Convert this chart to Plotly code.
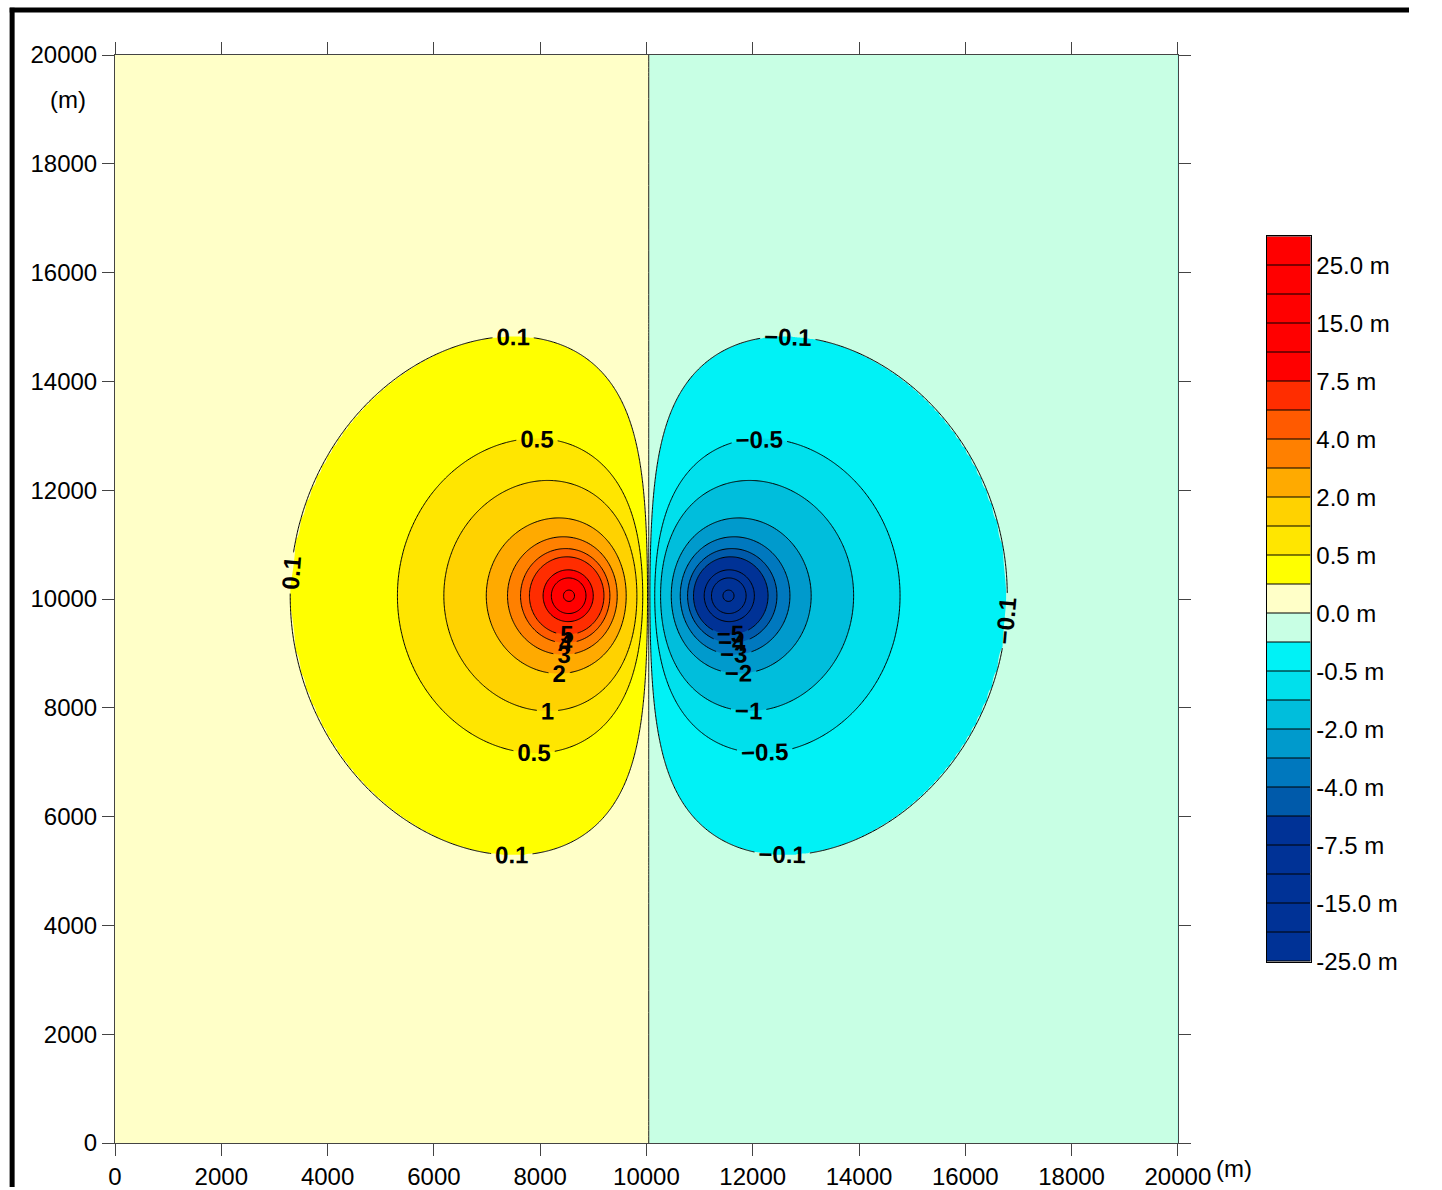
import numpy as np
import plotly.graph_objects as go

# ---------------- data ----------------
x_tick_vals = [0, 2000, 4000, 6000, 8000, 10000, 12000, 14000, 16000, 18000, 20000]
y_tick_vals = [0, 2000, 4000, 6000, 8000, 10000, 12000, 14000, 16000, 18000, 20000]
x_tick_text = [str(v) for v in x_tick_vals]
y_tick_text = [str(v) for v in y_tick_vals]

# two-lobe displacement field (positive lobe left, negative lobe right)
pos_source_x = 8545.0
neg_source_x = 11541.0
source_y = 10060.0
amplitude = 4700.0
core_radius = 280.0
decay_length = 3280.0
decay_power = 1.6

# colour bands (bottom -> top) and their boundaries
band_bounds = [-25, -20, -15, -10, -7.5, -5, -4, -3, -2, -1, -0.5, -0.1, 0,
               0.1, 0.5, 1, 2, 3, 4, 5, 7.5, 10, 15, 20, 25, 30]
band_colors = ["#003296", "#003296", "#003296", "#003296", "#003296",
               "#005AAA", "#0078BE", "#009ACC", "#00BEDC", "#00E0EC",
               "#00F2F6", "#C8FFE4", "#FFFFC8", "#FFFF00", "#FFE600",
               "#FFD200", "#FFAA00", "#FF8000", "#FF5A00", "#FF2D00",
               "#FF0000", "#FF0000", "#FF0000", "#FF0000", "#FF0000"]
cbar_label_values = [-25, -15, -7.5, -4, -2, -0.5, 0, 0.5, 2, 4, 7.5, 15, 25]
cbar_label_text = ["-25.0 m", "-15.0 m", "-7.5 m", "-4.0 m", "-2.0 m", "-0.5 m",
                   "0.0 m", "0.5 m", "2.0 m", "4.0 m", "7.5 m", "15.0 m", "25.0 m"]
line_levels = [-25, -20, -15, -10, -7.5, -5, -4, -3, -2, -1, -0.5, -0.1, 0,
               0.1, 0.5, 1, 2, 3, 4, 5, 7.5, 10, 15, 20, 25]
# how many labels each of the outer contours carries in the picture
labels_per_level = {0.1: 3, -0.1: 3, 0.5: 2, -0.5: 2}

FONT = "Liberation Sans, Arial, Helvetica, sans-serif"

# ---------------- grid & field ----------------
xg = np.concatenate([np.arange(0, 6000, 100), np.arange(6000, 14000, 20),
                     np.arange(14000, 20001, 100)]).astype(float)
yg = np.concatenate([np.arange(0, 5000, 100), np.arange(5000, 15000, 25),
                     np.arange(15000, 20001, 100)]).astype(float)
X, Y = np.meshgrid(xg, yg)


def lobe(r):
    return np.exp(-(r / decay_length) ** decay_power) / np.sqrt(r ** 2 + core_radius ** 2)


r1 = np.hypot(X - pos_source_x, Y - source_y)
r2 = np.hypot(X - neg_source_x, Y - source_y)
U = amplitude * (lobe(r1) - lobe(r2))

n_bands = len(band_colors)
zero_idx = band_bounds.index(0)
band_index = np.interp(U, band_bounds, np.arange(len(band_bounds)))
band_index = np.where(U > 0, np.maximum(band_index, zero_idx + 1e-3),
                      np.minimum(band_index, zero_idx - 1e-3))
colorscale = [[k / (n_bands - 1), c] for k, c in enumerate(band_colors)]

fig = go.Figure()

# filled bands
fig.add_trace(go.Contour(
    x=xg, y=yg, z=band_index.astype(np.float32),
    contours=dict(start=1, end=n_bands - 1, size=1, coloring="fill", showlines=False),
    colorscale=colorscale, showscale=False, line=dict(width=0),
    hoverinfo="skip",
))

# contour lines with labels, one trace per level
label_font = dict(family=FONT, size=24, color="black", weight="bold")
for lev in line_levels:
    n_levels = 1
    if lev == 0:
        ix = np.where((xg > 9500) & (xg < 10600))[0]
        iy = np.union1d(np.arange(0, len(yg), 4), [len(yg) - 1])
    elif lev in labels_per_level:
        # whole field: plotly spreads several labels round the long outer contours
        ix = np.arange(len(xg))
        iy = np.arange(len(yg))
        n_levels = {3: 50, 2: 40}[labels_per_level[lev]]
    else:
        mask = (np.sign(lev) * U) >= abs(lev)
        if not mask.any():
            continue
        rows = np.where(mask.any(axis=1))[0]
        cols = np.where(mask.any(axis=0))[0]
        cx0, cx1 = xg[cols.min()], xg[cols.max()]
        cy0, cy1 = yg[rows.min()], yg[rows.max()]
        w, h = cx1 - cx0, cy1 - cy0
        m = 300.0
        by0, by1 = cy0 - m - 0.6 * h, cy1 + m
        if lev > 0:
            bx0, bx1 = cx0 - m - 0.3 * w, cx1 + m
        else:
            bx0, bx1 = cx0 - m, cx1 + m + 0.3 * w
        ix = np.where((xg >= bx0) & (xg <= bx1))[0]
        iy = np.where((yg >= by0) & (yg <= by1))[0]
    sub = U[np.ix_(iy, ix)].astype(np.float32)
    fig.add_trace(go.Contour(
        x=xg[ix], y=yg[iy], z=sub,
        contours=dict(start=lev, end=lev + (n_levels - 1) * 1000.0, size=1000.0,
                      coloring="none", showlabels=(lev != 0), labelformat="~g",
                      labelfont=label_font),
        line=dict(color="#222222" if lev == 0 else "black", width=1, smoothing=1),
        showscale=False, hoverinfo="skip",
    ))

# colour bar drawn as a one-column heatmap
fig.add_trace(go.Heatmap(
    x=[0], y=[k + 0.5 for k in range(n_bands)],
    z=[[k] for k in range(n_bands)],
    colorscale=colorscale, zmin=0, zmax=n_bands - 1, showscale=False,
    ygap=1, xaxis="x2", yaxis="y2", hoverinfo="skip",
))

cbar_tickvals = [band_bounds.index(v) for v in cbar_label_values]

W, H = 1442, 1190
ML, MR, MT, MB = 115, 0, 55, 44
PW = W - ML - MR
PH = H - MT - MB


def px_x(p):
    return (p - ML) / PW


def px_y(p):
    return (H - MB - p) / PH


axis_common = dict(
    range=[0, 20000], ticks="outside", ticklen=12, tickwidth=1, tickcolor="#444444",
    showline=True, linecolor="#444444", linewidth=1, mirror="ticks",
    showgrid=False, zeroline=False,
    tickfont=dict(family=FONT, size=24, color="black"),
)

fig.update_layout(
    width=W, height=H, autosize=False,
    margin=dict(l=ML, r=MR, t=MT, b=MB, pad=0),
    paper_bgcolor="white", plot_bgcolor="white",
    showlegend=False,
    xaxis=dict(domain=[0, 1090 / PW], tickvals=x_tick_vals, ticktext=x_tick_text, **axis_common),
    yaxis=dict(domain=[0, 1], tickvals=y_tick_vals, ticktext=y_tick_text, **axis_common),
    xaxis2=dict(domain=[px_x(1296), px_x(1341)], anchor="y2", range=[-0.5, 0.5],
                showticklabels=False, ticks="", showgrid=False, zeroline=False,
                showline=True, mirror=True, linecolor="black", linewidth=1),
    yaxis2=dict(domain=[px_y(964), px_y(237)], anchor="x2", range=[0, n_bands],
                side="right", tickvals=cbar_tickvals, ticktext=cbar_label_text,
                ticks="", showgrid=False, zeroline=False,
                showline=True, mirror=True, linecolor="black", linewidth=1,
                tickfont=dict(family=FONT, size=24, color="black")),
    shapes=[
        dict(type="rect", xref="x2 domain", yref="y2 domain", x0=0, x1=1, y0=0, y1=1,
             fillcolor="black", line=dict(width=0), layer="below"),
        dict(type="line", xref="paper", yref="paper", x0=px_x(9.5), x1=px_x(9.5),
             y0=px_y(7.5), y1=px_y(1190), line=dict(color="black", width=5)),
        dict(type="line", xref="paper", yref="paper", x0=px_x(7), x1=px_x(1442),
             y0=px_y(10), y1=px_y(10), line=dict(color="black", width=5)),
    ],
    annotations=[
        dict(text="(m)", xref="paper", yref="paper", x=px_x(67), y=px_y(100),
             xanchor="center", yanchor="middle", showarrow=False,
             font=dict(family=FONT, size=24, color="black")),
        dict(text="(m)", xref="paper", yref="paper", x=px_x(1263), y=px_y(1172),
             xanchor="center", yanchor="middle", showarrow=False,
             font=dict(family=FONT, size=24, color="black")),
    ],
)

fig.write_html("out.html")
